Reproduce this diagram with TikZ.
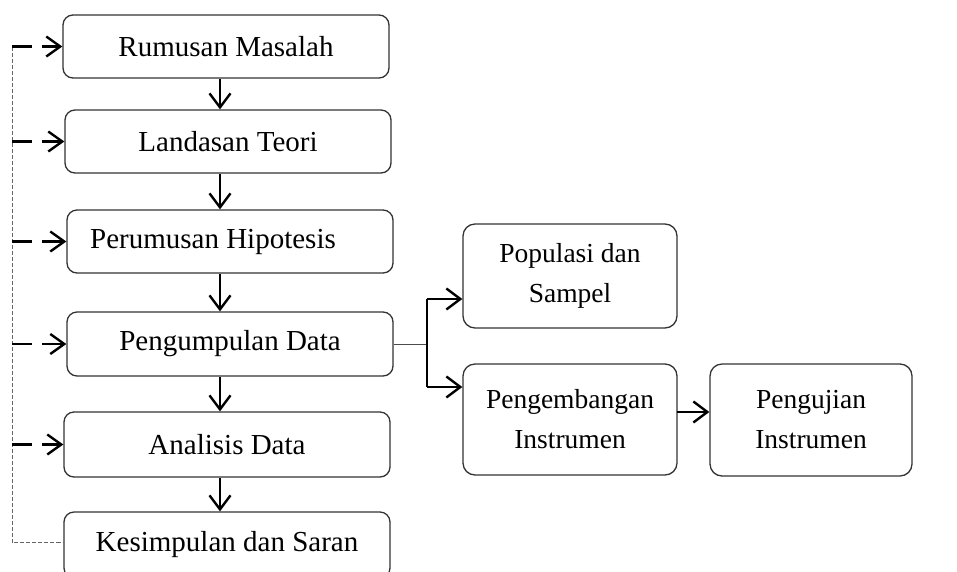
\documentclass[tikz,border=0pt]{standalone}
\usepackage{fontspec}
\setmainfont{Liberation Serif}
\usetikzlibrary{arrows.meta}
\begin{document}
\begin{tikzpicture}[x=1pt,y=-1pt,
  lbox/.style={draw=black!80, line width=1.3pt, rounded corners=10pt, minimum width=326pt, inner sep=0pt, font=\fontsize{29}{36}\selectfont},
  rbox/.style={draw=black!80, line width=1.3pt, rounded corners=12pt, inner sep=0pt, align=center, font=\fontsize{27.5}{40}\selectfont},
  arr/.style={draw=black, line width=2.4pt, -{Straight Barb[length=14pt,width=21pt,line width=2.4pt]}},
  fbarr/.style={draw=black, line width=2.4pt, dash pattern=on 20pt off 10pt on 40pt, -{Straight Barb[length=14pt,width=20pt,line width=2.4pt]}},
  fbline/.style={draw=black!60, line width=1pt, dash pattern=on 4pt off 2pt},
  thinln/.style={draw=black!70, line width=0.9pt},
  thickln/.style={draw=black, line width=2.4pt}]
\useasboundingbox (0,0) rectangle (957,571);
\node[lbox, minimum height=63pt] (b1) at (226,46.5) {Rumusan Masalah};
\node[lbox, minimum height=63pt] (b2) at (228,141.5) {Landasan Teori};
\node[lbox, minimum height=63pt] (b3) at (230,241.5) {Perumusan Hipotesis\hspace*{34pt}};
\node[lbox, minimum height=64pt] (b4) at (230,344) {Pengumpulan Data};
\node[lbox, minimum height=65pt] (b5) at (227,444.5) {Analisis Data};
\node[lbox, minimum height=66pt] (b6) at (227,545) {Kesimpulan dan Saran};
\node[rbox, minimum width=214pt, minimum height=104pt] (pop) at (570,276) {Populasi dan\\Sampel};
\node[rbox, minimum width=214pt, minimum height=111pt] (pen) at (570,419.5) {Pengembangan\\Instrumen};
\node[rbox, minimum width=202pt, minimum height=112pt] (uji) at (811,420) {Pengujian\\Instrumen};
% vertical arrows
\coordinate (ax) at (220,0);
\draw[arr] (b1.south -| ax) -- (b2.north -| ax);
\draw[arr] (b2.south -| ax) -- (b3.north -| ax);
\draw[arr] (b3.south -| ax) -- (b4.north -| ax);
\draw[arr] (b4.south -| ax) -- (b5.north -| ax);
\draw[arr] (b5.south -| ax) -- (b6.north -| ax);
% feedback
\coordinate (fx) at (12,0);
\coordinate (fb) at (12,542);
\draw[fbline] (b1.west -| fx) -- (fb) -- (fb -| b6.west);
\draw[fbarr] (b1.west -| fx) -- (b1.west);
\draw[fbarr] (b2.west -| fx) -- (b2.west);
\draw[fbarr] (b3.west -| fx) -- (b3.west);
\draw[fbarr] (b4.west -| fx) -- (b4.west);
\draw[fbarr] (b5.west -| fx) -- (b5.west);
% branch
\coordinate (j0) at (427,344);
\coordinate (j1) at (427,299);
\coordinate (j2) at (427,387);
\draw[thinln] (b4.east) -- (j0);
\draw[thickln] (j1) -- (j2);
\draw[arr] (j1) -- (j1 -| pop.west);
\draw[arr] (j2) -- (j2 -| pen.west);
\coordinate (k1) at (677,412);
\draw[arr] (k1) -- (k1 -| uji.west);
\end{tikzpicture}
\end{document}
